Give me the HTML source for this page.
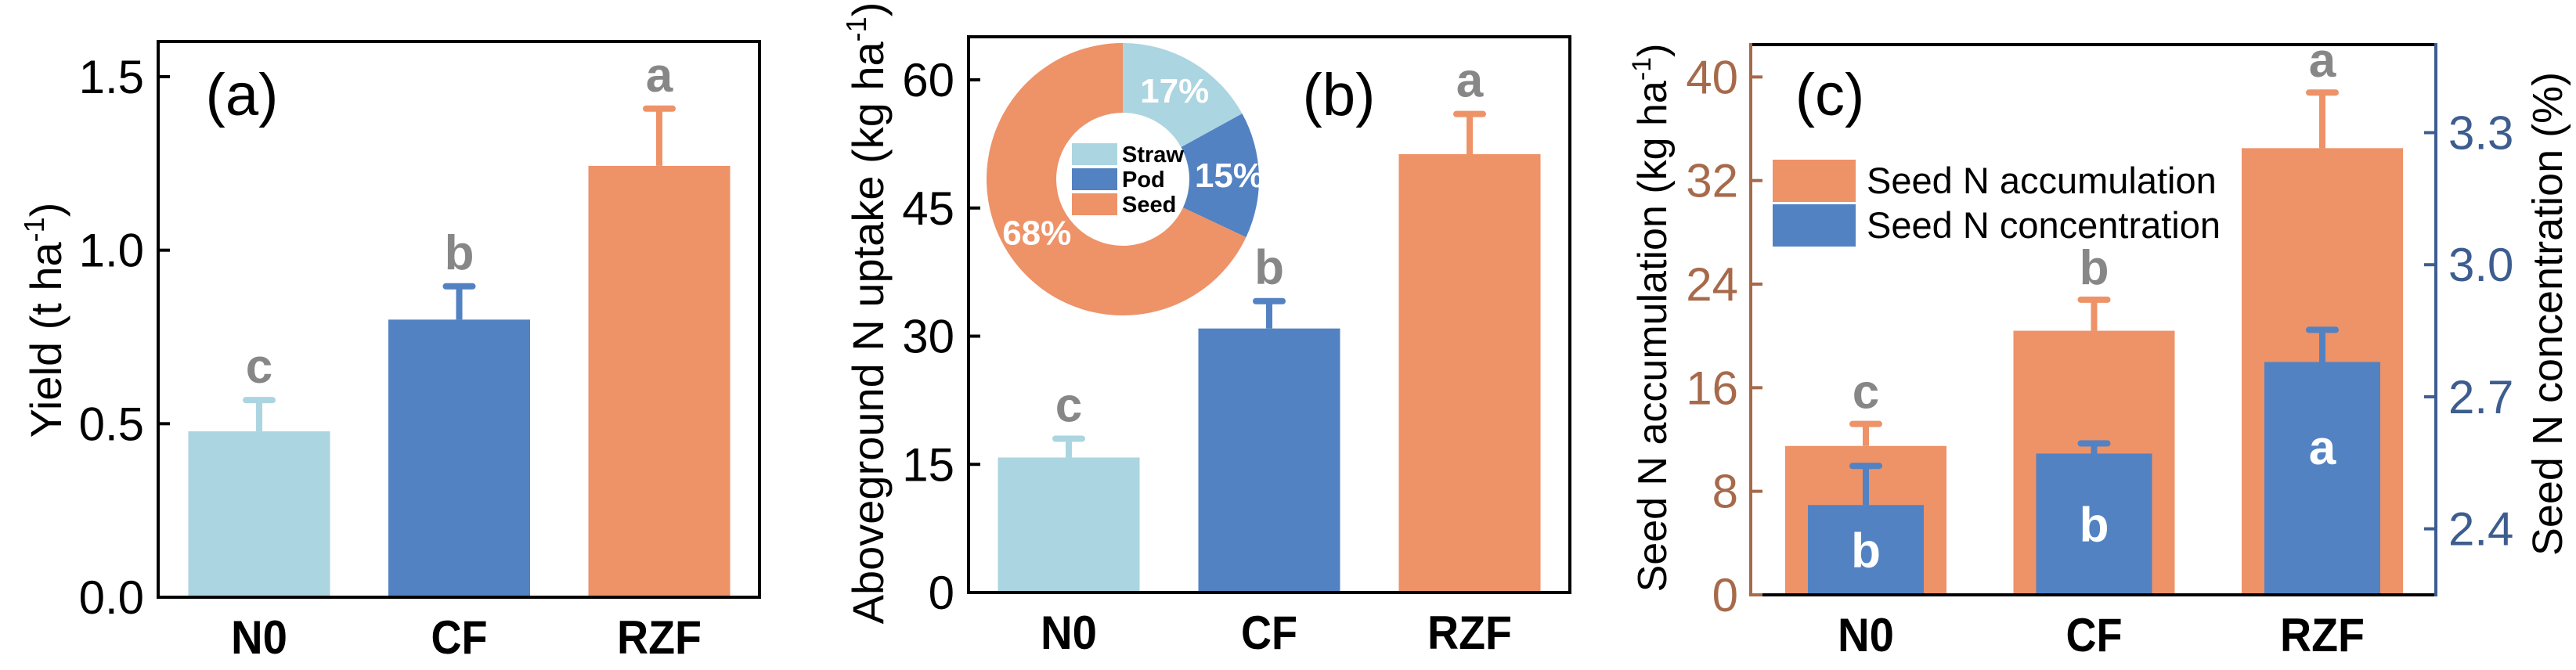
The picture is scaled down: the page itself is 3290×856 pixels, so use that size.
<!DOCTYPE html>
<html><head><meta charset="utf-8"><style>
html,body{margin:0;padding:0;background:#fff;}
svg{display:block;font-family:"Liberation Sans",Arial,sans-serif;}
</style></head><body>
<svg id="fig" width="3290" height="856" viewBox="0 0 3290 856" xmlns="http://www.w3.org/2000/svg"></svg>
<script>
const categories = ["N0","CF","RZF"];
const yieldVals = [0.478, 0.80, 1.243];
const yieldErr = [0.09, 0.096, 0.165];
const yieldLetters = ["c","b","a"];
const yieldTicks = [0.0, 0.5, 1.0, 1.5];
const uptakeVals = [15.8, 30.9, 51.3];
const uptakeErr = [2.2, 3.2, 4.7];
const uptakeLetters = ["c","b","a"];
const uptakeTicks = [0, 15, 30, 45, 60];
const pieLabels = ["Straw","Pod","Seed"];
const pieVals = [17, 15, 68];
const accVals = [11.5, 20.4, 34.5];
const accErr = [1.7, 2.4, 4.3];
const accLetters = ["c","b","a"];
const accTicks = [0, 8, 16, 24, 32, 40];
const concVals = [2.454, 2.571, 2.779];
const concErr = [0.089, 0.023, 0.073];
const concLetters = ["b","b","a"];
const concTicks = [2.4, 2.7, 3.0, 3.3];

const NS = "http://www.w3.org/2000/svg";
const svg = document.getElementById("fig");
const COLS = ["#abd5e0","#5282c2","#ee9268"];
const BROWN = "#a66a4b", BLUE = "#3d5d8f";
function el(tag, attrs, parent, txt){
  const e = document.createElementNS(NS, tag);
  for (const k in attrs) e.setAttribute(k, attrs[k]);
  if (txt !== undefined) e.textContent = txt;
  (parent || svg).appendChild(e);
  return e;
}
function fmt(v, d){ return v.toFixed(d); }

function barPanel(o){
  const g = el("g", {});
  
  
  const y = v => o.bottom - (v - o.min) / (o.max - o.min) * (o.bottom - o.top);
  const xc = i => o.x0 + i * o.step;
  o.vals.forEach((v, i) => {
    const col = o.colors[i];
    const ey = y(v + o.err[i]);
    const l = el("line", {x1: xc(i), x2: xc(i), y1: y(v), y2: ey, stroke: col, "stroke-width": 8}, g);
    
    
    const c = el("line", {x1: xc(i)-17, x2: xc(i)+17, y1: ey, y2: ey, stroke: col, "stroke-width": 8, "stroke-linecap":"round"}, g);
    
    
    const r = el("rect", {x: xc(i) - o.bw/2, y: y(v), width: o.bw, height: o.bottom - y(v), fill: col}, g);
    
    
    const t = el("text", {x: xc(i), y: ey - 22, "text-anchor": "middle", "font-size": 62, "font-weight": "bold", fill: "#878787"}, g, o.letters[i]);
    
    
  });
  const f = el("rect", {x: o.left, y: o.top0, width: o.right - o.left, height: o.bottom - o.top0, fill: "none", stroke: "#000", "stroke-width": 4}, g);
  
  
  o.ticks.forEach(t => {
    const tk = el("line", {x1: o.left, x2: o.left + 15, y1: y(t), y2: y(t), stroke: "#000", "stroke-width": 4}, g);
    
    
    const tl = el("text", {x: o.left - 18, y: y(t) + 21, "text-anchor": "end", "font-size": 60, fill: "#000"}, g, fmt(t, o.dec));
    
    
  });
  categories.forEach((c, i) => {
    const t = el("text", {x: xc(i), y: o.bottom + 72, "text-anchor": "middle", "font-size": 60, "font-weight": "bold", fill: "#000", "textLength": c.length*36, "lengthAdjust":"spacingAndGlyphs"}, g, c);
    
    
  });
  const pl = el("text", {x: o.plx, y: 147, "text-anchor": "middle", "font-size": 76, fill: "#000"}, g, o.panel);
  
  
  const yt = el("text", {x: 0, y: 0, "text-anchor": "middle", "font-size": 56, fill: "#000", transform: `translate(${o.ytx},${o.yty}) rotate(-90)`}, g);
  
  
  el("tspan", {}, yt, o.ytitle);
  el("tspan", {dy: -22, "font-size": 36}, yt, "-1");
  el("tspan", {dy: 22}, yt, ")");
  return {g, y, xc};
}

barPanel({name:"yield-chart", left:202, right:970, top0:53, top:98, bottom:763, min:0, max:1.5,
  x0:331, step:255.5, bw:181, vals:yieldVals, err:yieldErr, letters:yieldLetters, colors:COLS,
  ticks:yieldTicks, dec:1, plx:309, panel:"(a)", ytitle:"Yield (t ha", ytx:78, yty:409});

barPanel({name:"n-uptake-chart", left:1237, right:2005, top0:47, top:102, bottom:757, min:0, max:60,
  x0:1365, step:256, bw:181, vals:uptakeVals, err:uptakeErr, letters:uptakeLetters, colors:COLS,
  ticks:uptakeTicks, dec:0, plx:1710, panel:"(b)", ytitle:"Aboveground N uptake (kg ha", ytx:1128, yty:400});

(function(){
  const g = el("g", {});
  
  
  const cx = 1434, cy = 229, R = 174, r = 85;
  const total = pieVals.reduce((a,b)=>a+b,0);
  let a0 = -Math.PI/2;
  pieVals.forEach((v, i) => {
    const a1 = a0 + v/total * 2*Math.PI;
    const large = (a1 - a0) > Math.PI ? 1 : 0;
    const p = (rr, a) => `${cx + rr*Math.cos(a)},${cy + rr*Math.sin(a)}`;
    const d = `M${p(R,a0)} A${R},${R} 0 ${large} 1 ${p(R,a1)} L${p(r,a1)} A${r},${r} 0 ${large} 0 ${p(r,a0)} Z`;
    const s = el("path", {d, fill: COLS[i]}, g);
    
    
    const am = (a0 + a1)/2;
    const lr = 130;
    const t = el("text", {x: cx + lr*Math.cos(am) + (i===1?6:0), y: cy + lr*Math.sin(am) + 14, "text-anchor":"middle", "font-size": 44, "font-weight":"bold", fill:"#fff"}, g, v + "%");
    
    
    a0 = a1;
  });
  pieLabels.forEach((lab, i) => {
    const yy = 183 + i*32;
    const b = el("rect", {x:1369, y:yy, width:58, height:28, fill: COLS[i]}, g);
    
    
    const t = el("text", {x:1433, y:yy+24, "font-size":29, "font-weight":"bold", fill:"#000"}, g, lab);
    
    
  });
})();

(function(){
  const g = el("g", {});
  
  
  const left = 2236, right = 3111, top0 = 57, bottom = 760;
  const yL = v => bottom - v / 42.5 * (bottom - top0);
  const yR = v => bottom - (v - 2.25) / (3.5 - 2.25) * (bottom - top0);
  const xc = i => 2383 + i * 291.5;
  accVals.forEach((v, i) => {
    const ey = yL(v + accErr[i]);
    const l = el("line", {x1:xc(i), x2:xc(i), y1:yL(v), y2:ey, stroke:COLS[2], "stroke-width":8}, g);
    
    
    const c = el("line", {x1:xc(i)-17, x2:xc(i)+17, y1:ey, y2:ey, stroke:COLS[2], "stroke-width":8, "stroke-linecap":"round"}, g);
    
    
    const r = el("rect", {x:xc(i)-103, y:yL(v), width:206, height:bottom - yL(v), fill:COLS[2]}, g);
    
    
    const t = el("text", {x:xc(i), y:ey - 20, "text-anchor":"middle", "font-size":62, "font-weight":"bold", fill:"#878787"}, g, accLetters[i]);
    
    
  });
  concVals.forEach((v, i) => {
    const ey = yR(v + concErr[i]);
    const l = el("line", {x1:xc(i), x2:xc(i), y1:yR(v), y2:ey, stroke:COLS[1], "stroke-width":8}, g);
    
    
    const c = el("line", {x1:xc(i)-17, x2:xc(i)+17, y1:ey, y2:ey, stroke:COLS[1], "stroke-width":8, "stroke-linecap":"round"}, g);
    
    
    const r = el("rect", {x:xc(i)-74, y:yR(v), width:148, height:bottom - yR(v), fill:COLS[1]}, g);
    
    
    const t = el("text", {x:xc(i), y:(yR(v)+bottom)/2 + 22 + (i===2?-40:0), "text-anchor":"middle", "font-size":62, "font-weight":"bold", fill:"#fff"}, g, concLetters[i]);
    
    
  });
  const fr = el("path", {d:`M${left},${top0} H${right} M${left},${bottom} H${right}`, stroke:"#000", "stroke-width":4, fill:"none"}, g);
  
  
  const la = el("line", {x1:left, x2:left, y1:top0-2, y2:bottom+2, stroke:BROWN, "stroke-width":4}, g);
  
  
  const ra = el("line", {x1:right, x2:right, y1:top0-2, y2:bottom+2, stroke:BLUE, "stroke-width":4}, g);
  
  
  accTicks.forEach(t => {
    const tk = el("line", {x1:left, x2:left+15, y1:yL(t), y2:yL(t), stroke:BROWN, "stroke-width":4}, g);
    
    
    const tl = el("text", {x:left-16, y:yL(t)+21, "text-anchor":"end", "font-size":60, fill:BROWN}, g, String(t));
    
    
  });
  concTicks.forEach(t => {
    const tk = el("line", {x1:right-15, x2:right, y1:yR(t), y2:yR(t), stroke:BLUE, "stroke-width":4}, g);
    
    
    const tl = el("text", {x:right+16, y:yR(t)+21, "font-size":60, fill:BLUE}, g, t.toFixed(1));
    
    
  });
  categories.forEach((c, i) => {
    const t = el("text", {x:xc(i), y:bottom+72, "text-anchor":"middle", "font-size":60, "font-weight":"bold", fill:"#000", "textLength": c.length*36, "lengthAdjust":"spacingAndGlyphs"}, g, c);
    
    
  });
  const pl = el("text", {x:2337, y:147, "text-anchor":"middle", "font-size":76, fill:"#000"}, g, "(c)");
  
  
  const leg = [["Seed N accumulation", COLS[2], 204], ["Seed N concentration", COLS[1], 261]];
  leg.forEach(([lab, col, yy]) => {
    const b = el("rect", {x:2264, y:yy, width:106, height:54, fill:col}, g);
    
    
    const t = el("text", {x:2384, y:yy+43, "font-size":47, fill:"#000"}, g, lab);
    
    
  });
  const yt = el("text", {x:0, y:0, "text-anchor":"middle", "font-size":52, fill:"#000", transform:"translate(2128,406) rotate(-90)"}, g);
  
  
  el("tspan", {}, yt, "Seed N accumulation (kg ha");
  el("tspan", {dy:-20, "font-size":34}, yt, "-1");
  el("tspan", {dy:20}, yt, ")");
  const yt2 = el("text", {x:0, y:0, "text-anchor":"middle", "font-size":54, fill:"#000", transform:"translate(3272,401) rotate(-90)"}, g, "Seed N concentration (%)");
  
  
})();
</script>
</body></html>
